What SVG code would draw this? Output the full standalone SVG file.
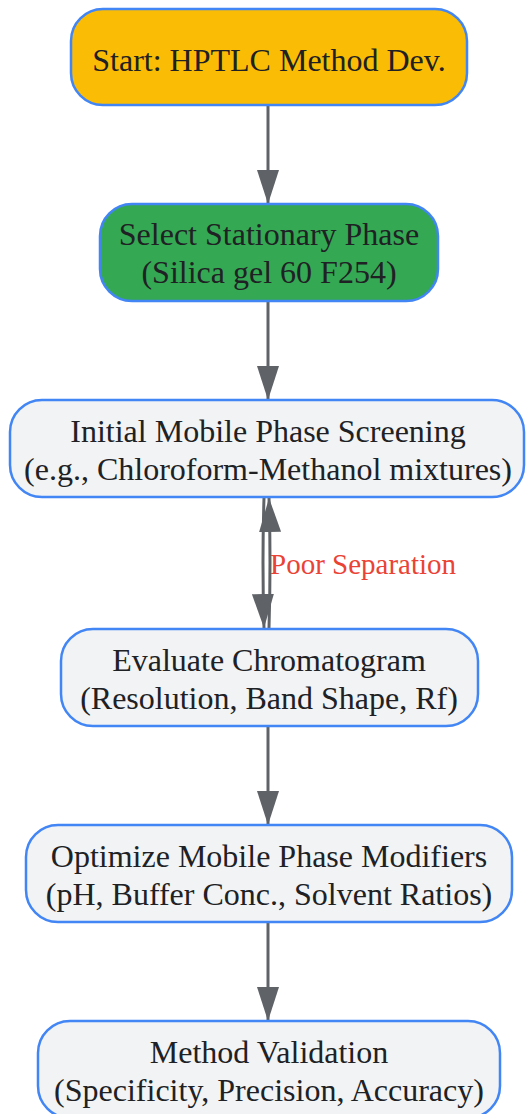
<svg xmlns="http://www.w3.org/2000/svg" width="526" height="1114" viewBox="0 0 526 1114">
<defs>
<marker id="arr" viewBox="0 0 34 22" refX="34" refY="11" markerWidth="34" markerHeight="22" markerUnits="userSpaceOnUse" orient="auto">
<path d="M0,0 L34,11 L0,22 Z" fill="#5F6368"/>
</marker>
<style>
.node rect{stroke:#4285F4;stroke-width:2.5}
.node text{font-family:"Liberation Serif","Times New Roman",serif;font-size:32px;fill:#202124;text-anchor:middle}
.edge{fill:none;stroke:#5F6368;stroke-width:3}
.lbl{font-family:"Liberation Serif","Times New Roman",serif;font-size:29px;fill:#EA4335}
</style>
</defs>
<rect width="526" height="1114" fill="#FFFFFF"/>
<g id="connectors">
<path class="edge" d="M268,106 L268,204" marker-end="url(#arr)"/>
<path class="edge" d="M268,302 L268,400" marker-end="url(#arr)"/>
<path class="edge" d="M264,498 Q262,563 264,628" marker-end="url(#arr)"/>
<path class="edge" d="M269,628 Q271,563 269,498" marker-end="url(#arr)"/>
<text class="lbl" x="270" y="574">Poor Separation</text>
<path class="edge" d="M268,727 L268,825" marker-end="url(#arr)"/>
<path class="edge" d="M268,923 L268,1021" marker-end="url(#arr)"/>
</g>
<g id="start" class="node">
<rect x="71" y="9" width="396" height="96" rx="32" fill="#FBBC05"/>
<text x="269" y="71">Start: HPTLC Method Dev.</text>
</g>
<g id="stationary" class="node">
<rect x="100" y="204" width="338" height="97" rx="32" fill="#34A853"/>
<text x="269" y="245">Select Stationary Phase</text>
<text x="269" y="283">(Silica gel 60 F254)</text>
</g>
<g id="screening" class="node">
<rect x="10" y="400" width="514" height="97" rx="32" fill="#F1F3F4"/>
<text x="268" y="442">Initial Mobile Phase Screening</text>
<text x="268" y="480">(e.g., Chloroform-Methanol mixtures)</text>
</g>
<g id="evaluate" class="node">
<rect x="61" y="629" width="417" height="97" rx="32" fill="#F1F3F4"/>
<text x="269" y="671">Evaluate Chromatogram</text>
<text x="269" y="709">(Resolution, Band Shape, Rf)</text>
</g>
<g id="optimize" class="node">
<rect x="26" y="825" width="486" height="97" rx="32" fill="#F1F3F4"/>
<text x="269" y="867">Optimize Mobile Phase Modifiers</text>
<text x="269" y="905">(pH, Buffer Conc., Solvent Ratios)</text>
</g>
<g id="validation" class="node">
<rect x="38" y="1021" width="462" height="97" rx="32" fill="#F1F3F4"/>
<text x="269" y="1063">Method Validation</text>
<text x="269" y="1101">(Specificity, Precision, Accuracy)</text>
</g>
</svg>
